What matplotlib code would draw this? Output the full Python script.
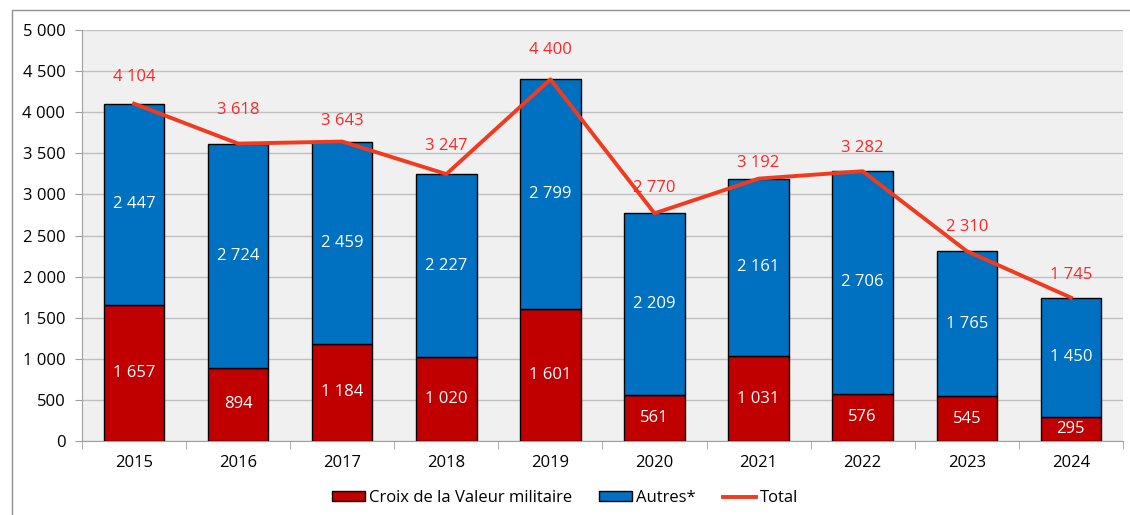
import matplotlib.pyplot as plt
from matplotlib.patches import Patch, Rectangle
from matplotlib.lines import Line2D
from matplotlib.ticker import FuncFormatter, FixedLocator

years = ['2015', '2016', '2017', '2018', '2019', '2020', '2021', '2022', '2023', '2024']
croix = [1657, 894, 1184, 1020, 1601, 561, 1031, 576, 545, 295]
autres = [2447, 2724, 2459, 2227, 2799, 2209, 2161, 2706, 1765, 1450]
totals = [4104, 3618, 3643, 3247, 4400, 2770, 3192, 3282, 2310, 1745]

# offsets (points) of the total labels above the line, as placed in the original
label_dy = [19.5, 24.5, 15, 20, 21, 18, 11, 16.5, 17.5, 16.5]

RED = '#C00000'
BLUE = '#0070C0'
LINE = '#F23A1E'
LABEL = '#FF2626'


def fmt(v):
    return '{:,}'.format(int(v)).replace(',', ' ')


def main():
    plt.rcParams['font.family'] = ['Open Sans', 'DejaVu Sans']
    fig = plt.figure(figsize=(11.3, 5.15), dpi=100)
    ax = fig.add_axes([0.0726, 0.1437, 0.9211, 0.798])
    ax.set_facecolor('#F0F0F0')

    x = list(range(len(years)))
    width = 0.58
    ax.bar(x, croix, width, color=RED, edgecolor='black', linewidth=1, zorder=3)
    ax.bar(x, autres, width, bottom=croix, color=BLUE, edgecolor='black', linewidth=1, zorder=3)
    ax.plot(x, totals, color=LINE, linewidth=2.8, zorder=4)

    for i in x:
        ax.text(i, croix[i] / 2, fmt(croix[i]), color='white', ha='center', va='center', fontsize=12, zorder=5)
        ax.text(i, croix[i] + autres[i] / 2, fmt(autres[i]), color='white', ha='center', va='center', fontsize=12, zorder=5)
        ax.annotate(fmt(totals[i]), (i, totals[i]), xytext=(0, label_dy[i]), textcoords='offset points',
                    color=LABEL, ha='center', va='center', fontsize=12, zorder=5)

    ax.set_xlim(-0.5, len(years) - 0.5)
    ax.set_ylim(0, 5000)
    ax.set_yticks(range(0, 5001, 500))
    ax.yaxis.set_major_formatter(FuncFormatter(lambda v, p: fmt(v)))
    ax.set_xticks(x)
    ax.set_xticklabels(years)
    ax.xaxis.set_minor_locator(FixedLocator([i - 0.5 for i in range(len(years) + 1)]))
    ax.tick_params(axis='x', which='major', length=0, pad=10, labelsize=12)
    ax.tick_params(axis='x', which='minor', length=6, color='#A0A0A0', direction='out')
    ax.tick_params(axis='y', length=5, color='#A0A0A0', labelsize=12, pad=7)
    ax.grid(axis='y', color='#C0C0C0', linewidth=1, zorder=0)
    for s in ['top', 'right']:
        ax.spines[s].set_visible(False)
    for s in ['left', 'bottom']:
        ax.spines[s].set_color('#A0A0A0')

    handles = [Patch(facecolor=RED, edgecolor='black', label='Croix de la Valeur militaire'),
               Patch(facecolor=BLUE, edgecolor='black', label='Autres*'),
               Line2D([], [], color=LINE, linewidth=2.8, label='Total')]
    fig.legend(handles=handles, loc='center', bbox_to_anchor=(0.5, 0.033), ncol=3, frameon=False,
               fontsize=12, handlelength=2.0, handleheight=0.55, columnspacing=1.6, handletextpad=0.25)

    # chart frame (top and left edges visible)
    fig.patches.append(Rectangle((12 / 1130, -0.1), 1.2, 1 - 10 / 515 + 0.1, transform=fig.transFigure,
                                 fill=False, edgecolor='#909090', linewidth=1))

    plt.savefig('out.png', dpi=100)
    plt.close()


if __name__ == '__main__':
    main()
